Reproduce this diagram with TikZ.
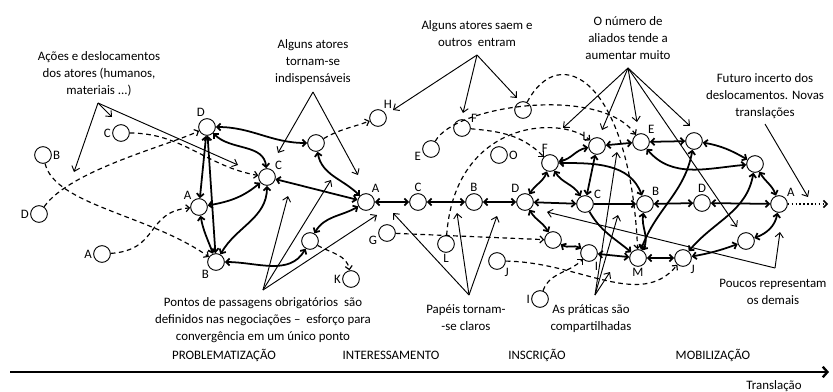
\documentclass[tikz,border=0pt]{standalone}
\usepackage{fontspec}
\setmainfont{Carlito}
\usetikzlibrary{arrows,arrows.meta,shapes}
\tikzstyle{actor}=[circle,draw,fill=white,minimum size=0.5cm,inner sep=0pt,line width=0.8pt]
\tikzstyle{edge}=[draw,line width=1.5pt,{Straight Barb[length=3pt,width=6pt]}-{Straight Barb[length=3pt,width=6pt]}]
\tikzstyle{oneway}=[draw,line width=1.5pt,-{Straight Barb[length=3pt,width=6pt]}]
\tikzstyle{trace}=[draw,line width=1pt,dash pattern=on 4pt off 3pt,-{Straight Barb[length=3pt,width=6pt]}]
\tikzstyle{pointer}=[draw,line width=0.8pt,-{Straight Barb[length=4pt,width=7pt]}]
\tikzstyle{note}=[align=center,font=\fontsize{11}{14.5}\selectfont]
\tikzstyle{phase}=[font=\fontsize{11}{13}\selectfont]

\begin{document}
\begin{tikzpicture}[x=0.03cm,y=-0.03cm,every label/.style={font=\fontsize{11}{13}\selectfont,inner sep=1pt}]
        \useasboundingbox (0,0) rectangle (833,392);
        % problematizacao
        \node[actor,label=0:B] (sB) at (43,155) {};
        \node[actor,label=180:C] (sC) at (121,133) {};
        \node[actor,label=180:D] (sD) at (39,214) {};
        \node[actor,label=180:A] (sA) at (102,254) {};
        \node[actor,label=95:D] (pD) at (207,127) {};
        \node[actor,label=135:A] (pA) at (199,207) {};
        \node[actor,label=40:C] (pC) at (267,177) {};
        \node[actor,label=230:B] (pB) at (216,262) {};
        \node[actor] (pT) at (316,143) {};
        \node[actor] (pU) at (310,241) {};
        \node[actor,label=60:H] (pH) at (378,118) {};
        \node[actor,label=180:K] (pK) at (351,279) {};
        % interessamento
        \node[actor,label=60:A] (iA) at (366,202) {};
        \node[actor,label=90:C] (iC) at (418,202) {};
        \node[actor,label=90:B] (iB) at (474,202) {};
        \node[actor,label=190:G] (iG) at (387,233) {};
        \node[actor,label=190:E] (iE) at (431,149) {};
        \node[actor,label=30:F] (iF) at (462,128) {};
        \node[actor,label=0:O] (iO) at (499,155) {};
        \node[actor] (iX) at (523,110) {};
        \node[actor,label=-90:L] (iL) at (446,244) {};
        \node[actor,label=-45:J] (iJ) at (497,261) {};
        \node[actor,label=180:I] (iI) at (540,299) {};
        % inscricao
        \node[actor,label=120:D] (nD) at (525,202) {};
        \node[actor,label=95:F] (nF) at (550,163) {};
        \node[actor,label=150:L] (nL) at (597,146) {};
        \node[actor,label=50:E] (nE) at (641,142) {};
        \node[actor,label=30:C] (nC) at (585,204) {};
        \node[actor,label=50:B] (nB) at (645,204) {};
        \node[actor] (nU) at (553,240) {};
        \node[actor,label=-60:I] (nI) at (589,253) {};
        \node[actor,label=-90:M] (nM) at (638,258) {};
        % mobilizacao
        \node[actor] (mT) at (694,141) {};
        \node[actor] (mR) at (755,164) {};
        \node[actor,label=90:D] (mD) at (702,203) {};
        \node[actor,label=40:A] (mA) at (779,204) {};
        \node[actor] (mW) at (746,241) {};
        \node[actor,label=-45:J] (mJ) at (683,258) {};
        \coordinate (mEnd) at (828,204);

        \draw[edge] (pD) to[out=0,in=180] (pT);
        \draw[edge] (pD) to[out=-45,in=95] (pC);
        \draw[edge] (pD) to (pA);
        \draw[edge] (pD) to (pB);
        \draw[edge] (pA) to[out=10,in=220] (pC);
        \draw[edge] (pA) to[out=-80,in=110] (pB);
        \draw[edge] (pC) to[out=-90,in=60] (pB);
        \draw[edge] (pC) to (iA);
        \draw[edge] (pT) to[out=-80,in=135] (iA);
        \draw[edge] (pU) to[out=60,in=210] (iA);
        \draw[edge] (pU) to[out=-120,in=0] (pB);
        \draw[trace] (pT) to[out=30,in=200] (pH);
        \draw[trace] (pU) to[out=-30,in=100] (pK);
        \draw[trace] (sC) to[out=0,in=170] (pC);
        \draw[trace] (sB) .. controls (55,205) and (150,215) .. (pB);
        \draw[trace] (sD) .. controls (70,170) and (170,145) .. (pD);
        \draw[trace] (sA) .. controls (160,250) and (145,212) .. (pA);

        \draw[edge] (iA) to (iC);
        \draw[edge] (iC) to (iB);
        \draw[edge] (iB) to (nD);
        \draw[trace] (iG) to (nU);
        \draw[trace] (iE) .. controls (455,105) and (600,85) .. (nE);
        \draw[trace] (iX) .. controls (560,40) and (630,80) .. (nM);
        \draw[trace] (iF) to[out=-5,in=135] (nF);
        \draw[trace] (iL) .. controls (455,120) and (560,115) .. (nL);
        \draw[trace] (iJ) .. controls (580,262) and (640,310) .. (mJ);
        \draw[trace] (iI) to[out=70,in=225] (nI);

        \draw[edge] (nF) to[out=10,in=190] (nL);
        \draw[edge] (nF) to[out=0,in=110] (nB);
        \draw[edge] (nF) to[out=-110,in=60] (nD);
        \draw[edge] (nF) to[out=-60,in=120] (nC);
        \draw[edge] (nL) to (nC);
        \draw[edge] (nL) to (nE);
        \draw[edge] (nD) to (nC);
        \draw[oneway] (nC) to (nB);
        \draw[edge] (nD) to[out=-60,in=120] (nU);
        \draw[edge] (nU) to[out=-30,in=150] (nI);
        \draw[edge] (nI) to (nM);
        \draw[oneway] (nC) to[out=-60,in=140] (nM);
        \draw[edge] (nB) to[out=-100,in=60] (nM);
        \draw[edge] (nE) to (mT);
        \draw[edge] (nE) to[out=-50,in=185] (mR);
        \draw[edge] (mT) to[out=-10,in=150] (mR);
        \draw[edge] (mR) to[out=-60,in=110] (mA);
        \draw[edge] (nB) to (mD);
        \draw[edge] (mD) to (mA);
        \draw[edge] (mA) to[out=-100,in=20] (mW);
        \draw[edge] (mW) to[out=200,in=10] (mJ);
        \draw[edge] (nM) to (mJ);
        \draw[edge] (mT) to[out=-100,in=70] (nM);
        \draw[edge] (mR) to[out=-100,in=50] (mJ);
        \draw[line width=1.3pt,dotted,-{Straight Barb[length=3pt,width=6pt]}] (mA) to (mEnd);

        % textos
        \node[note] (tAcoes) at (99,74) {Ações e deslocamentos\\dos atores (humanos,\\materiais ...)};
        \node[note] (tIndisp) at (313,62) {Alguns atores\\tornam-se\\indispensáveis};
        \node[note] (tSaem) at (477,34) {Alguns atores saem e\\outros\ \ entram};
        \node[note] (tAliados) at (628,38) {O número de\\aliados tende a\\aumentar muito};
        \node[note] (tFuturo) at (765,96) {Futuro incerto dos\\deslocamentos. Novas\\translações};
        \node[note] (tPontos) at (263,320) {Pontos de passagens obrigatórios\ \ são\\definidos nas negociações --\ \ esforço para\\convergência em um único ponto};
        \node[note] (tPapeis) at (466,318) {Papéis tornam-\\-se claros};
        \node[note] (tPraticas) at (591,319) {As práticas são\\compartilhadas};
        \node[note] (tPoucos) at (773,292) {Poucos representam\\os demais};

        \coordinate (cAc) at (98,103);
        \coordinate (aAc1) at (112,117);
        \coordinate (aAc2) at (238,165);
        \coordinate (aAc3) at (74,172);
        \draw[pointer] (cAc) to (aAc1);
        \draw[pointer] (cAc) to (aAc2);
        \draw[pointer] (cAc) to (aAc3);
        \coordinate (cIn) at (313,92);
        \coordinate (aIn1) at (278,153);
        \coordinate (aIn2) at (358,175);
        \draw[pointer] (cIn) to (aIn1);
        \draw[pointer] (cIn) to (aIn2);
        \coordinate (cSa) at (477,55);
        \coordinate (aSa1) at (393,110);
        \coordinate (aSa2) at (463,113);
        \coordinate (aSa3) at (517,98);
        \draw[pointer] (cSa) to (aSa1);
        \draw[pointer] (cSa) to (aSa2);
        \draw[pointer] (cSa) to (aSa3);
        \coordinate (cAl) at (628,68);
        \coordinate (aAl1) at (563,128);
        \coordinate (aAl2) at (602,130);
        \coordinate (aAl3) at (637,122);
        \coordinate (aAl4) at (690,126);
        \coordinate (aAl5) at (737,227);
        \draw[pointer] (cAl) to (aAl1);
        \draw[pointer] (cAl) to (aAl2);
        \draw[pointer] (cAl) to (aAl3);
        \draw[pointer] (cAl) to (aAl4);
        \draw[pointer] (cAl) to (aAl5);
        \coordinate (cFu) at (765,124);
        \coordinate (aFu) at (808,197);
        \draw[pointer] (cFu) to (aFu);
        \coordinate (cPo) at (263,290);
        \coordinate (aPo1) at (288,196);
        \coordinate (aPo2) at (331,180);
        \coordinate (aPo3) at (377,215);
        \draw[pointer] (cPo) to (aPo1);
        \draw[pointer] (cPo) to (aPo2);
        \draw[pointer] (cPo) to (aPo3);
        \coordinate (cPa) at (469,295);
        \coordinate (aPa1) at (393,213);
        \coordinate (aPa2) at (457,213);
        \coordinate (aPa3) at (497,216);
        \draw[pointer] (cPa) to (aPa1);
        \draw[pointer] (cPa) to (aPa2);
        \draw[pointer] (cPa) to (aPa3);
        \coordinate (cPr) at (595,295);
        \coordinate (aPr1) at (617,152);
        \coordinate (aPr2) at (618,215);
        \coordinate (aPr3) at (610,272);
        \draw[pointer] (cPr) to (aPr1);
        \draw[pointer] (cPr) to (aPr2);
        \draw[pointer] (cPr) to (aPr3);
        \coordinate (cPc) at (775,268);
        \coordinate (aPc1) at (547,212);
        \coordinate (aPc2) at (780,232);
        \draw[pointer] (cPc) to (aPc1);
        \draw[pointer] (cPc) to (aPc2);

        % eixo
        \node[phase] (fProb) at (224,355) {PROBLEMATIZAÇÃO};
        \node[phase] (fInter) at (391,355) {INTERESSAMENTO};
        \node[phase] (fInsc) at (537,355) {INSCRIÇÃO};
        \node[phase] (fMob) at (713,355) {MOBILIZAÇÃO};
        \node[phase] (fTrans) at (774,386) {Translação};
        \coordinate (axL) at (10,372);
        \coordinate (axR) at (829,372);
        \draw[line width=2pt,-{Straight Barb[length=4pt,width=9pt]}] (axL) to (axR);
      \end{tikzpicture}
\end{document}
